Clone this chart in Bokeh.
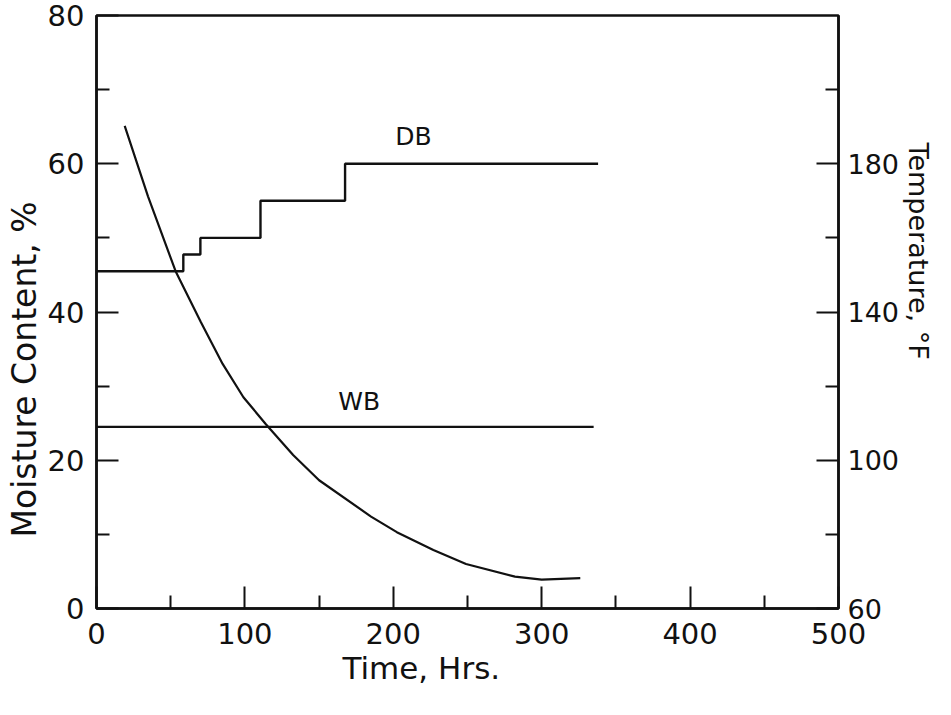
import numpy as np
from bokeh.plotting import figure
from bokeh.models import Range1d, LinearAxis, FixedTicker, Title
from bokeh.embed import file_html
from bokeh.resources import INLINE
from bokeh.core.properties import value

# ---- data ----
time_hrs = [19, 34.7, 53.3, 70.2, 85, 99, 114, 132.5, 150, 185, 202.4, 227, 249, 282, 300, 326]
moisture_pct = [65.1, 55.6, 45.5, 38.7, 33.0, 28.5, 24.9, 20.7, 17.3, 12.4, 10.3, 7.9, 6.0, 4.3, 3.9, 4.1]

db_time = [0, 58.5, 70, 110.5, 167.5, 338]
db_temp_f = [151, 155.5, 160, 170, 180, 180]

wb_time = [0, 335]
wb_temp_f = [109, 109]

x_ticks = [0, 100, 200, 300, 400, 500]
x_minor = [50, 150, 250, 350, 450]
m_ticks = [0, 20, 40, 60, 80]
m_minor = [10, 30, 50, 70]
t_ticks = [60, 100, 140, 180]
t_minor = [80, 120, 160, 200]

FONT = "DejaVu Sans"
INK = "#111111"

p = figure(width=935, height=699, output_backend="svg", toolbar_location=None,
           x_range=Range1d(0, 500), y_range=Range1d(0, 80),
           min_border_left=96, min_border_right=92, min_border_top=15, min_border_bottom=91)
p.extra_y_ranges = {"temp": Range1d(60, 220)}
p.add_layout(LinearAxis(y_range_name="temp"), "right")

p.grid.visible = False
p.background_fill_color = "white"
p.border_fill_color = "white"
p.outline_line_color = INK
p.outline_line_width = 2.5
p.outline_line_alpha = 1.0

p.xaxis.ticker = FixedTicker(ticks=x_ticks, minor_ticks=x_minor)
p.yaxis[0].ticker = FixedTicker(ticks=m_ticks, minor_ticks=m_minor)
p.yaxis[1].ticker = FixedTicker(ticks=t_ticks, minor_ticks=t_minor)

for ax in p.axis:
    ax.axis_line_color = INK
    ax.axis_line_width = 2.5
    ax.major_tick_line_color = INK
    ax.minor_tick_line_color = INK
    ax.major_tick_line_width = 2
    ax.minor_tick_line_width = 2
    ax.major_tick_in = 22
    ax.major_tick_out = 0
    ax.minor_tick_in = 13
    ax.minor_tick_out = 0
    ax.major_label_text_font = FONT
    ax.major_label_text_font_size = "29px"
    ax.major_label_text_color = INK
    ax.major_label_standoff = 12
p.xaxis.major_label_standoff = 14
p.yaxis[1].major_label_text_font_size = "27px"
p.yaxis[1].major_label_standoff = 9

p.line(time_hrs, moisture_pct, line_color=INK, line_width=2.2)
p.step(db_time, db_temp_f, mode="after", y_range_name="temp", line_color=INK, line_width=2.4)
p.line(wb_time, wb_temp_f, y_range_name="temp", line_color=INK, line_width=2.4)

p.text(x=[213.6], y=[187.4], text=["DB"], y_range_name="temp",
       text_font=value(FONT), text_font_size="25px", text_color=INK,
       text_align="center", text_baseline="middle")
p.text(x=[177], y=[115.8], text=["WB"], y_range_name="temp",
       text_font=value(FONT), text_font_size="25px", text_color=INK,
       text_align="center", text_baseline="middle")

p.add_layout(Title(text="Moisture Content, %", align="left", offset=71,
                   text_font=FONT, text_font_size="33px", text_font_style="normal",
                   text_color=INK, standoff=2), "left")
p.add_layout(Title(text="Temperature, °F", align="left", offset=127,
                   text_font=FONT, text_font_size="27px", text_font_style="normal",
                   text_color=INK, standoff=0), "right")
p.add_layout(Title(text="Time, Hrs.", align="left", offset=246,
                   text_font=FONT, text_font_size="31px", text_font_style="normal",
                   text_color=INK, standoff=2), "below")

open("out.html", "w").write(file_html(p, INLINE))
